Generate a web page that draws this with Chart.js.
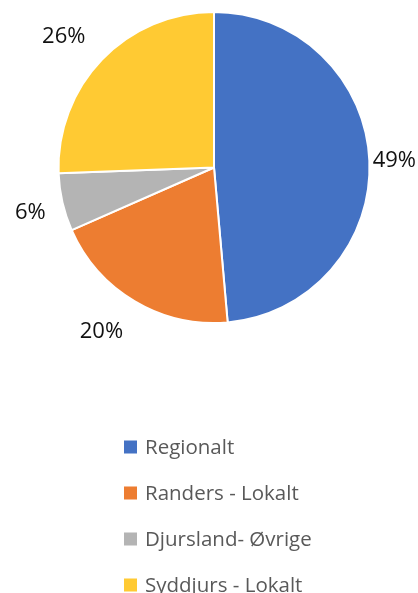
<!DOCTYPE html>
<html>
<head>
<meta charset="utf-8">
<script src="https://cdn.jsdelivr.net/npm/chart.js@4.4.0/dist/chart.umd.min.js"></script>
<style>
    html, body { margin: 0; padding: 0; background: #fff; }
    #wrap { width: 418px; height: 593px; }
</style>
</head>
<body>
<div id="wrap"><canvas id="pieChart" width="418" height="593"></canvas></div>
<script>
const categories = ['Regionalt', 'Randers - Lokalt', 'Djursland- Øvrige', 'Syddjurs - Lokalt'];
const shares = [48.6, 19.8, 6.0, 25.6];
const sliceColors = ['#4472C4', '#ED7D31', '#B4B4B4', '#FFCA33'];

const FONT = '"Open Sans", Lato, sans-serif';

// percentage labels outside each slice, nearest corner of the text box sits just past the rim
const outsideLabels = {
    id: 'outsideLabels',
    afterDatasetsDraw(chart) {
        const ctx = chart.ctx;
        const meta = chart.getDatasetMeta(0);
        const data = chart.data.datasets[0].data;
        const total = data.reduce((a, b) => a + b, 0);
        const clamp = v => Math.max(-1, Math.min(1, v));
        ctx.save();
        ctx.font = '22px ' + FONT;
        ctx.fillStyle = '#111';
        ctx.textAlign = 'center';
        ctx.textBaseline = 'middle';
        meta.data.forEach((arc, i) => {
            const p = arc.getProps(['x', 'y', 'startAngle', 'endAngle', 'outerRadius'], true);
            const mid = (p.startAngle + p.endAngle) / 2;
            const ux = Math.cos(mid), uy = Math.sin(mid);
            const text = Math.round(data[i] / total * 100) + '%';
            const hw = ctx.measureText(text).width / 2;
            const hh = 8.5;
            // steep sides (left/right) sit a little closer to the rim
            const r = p.outerRadius + 23 - 6 * Math.abs(ux) * (1 - Math.abs(uy) * 2.5 > 0 ? 1 : 0);
            let cx = p.x + ux * r + hw * clamp(ux * 2.5);
            const cy = p.y + uy * r + hh * clamp(uy * 2.5);
            cx = Math.min(cx, chart.width - 2 - hw);
            cx = Math.max(cx, 2 + hw);
            ctx.fillText(text, cx, cy + 2);
        });
        ctx.restore();
    }
};

// vertical legend under the pie
const stackedLegend = {
    id: 'stackedLegend',
    afterDraw(chart) {
        const ctx = chart.ctx;
        const colors = chart.data.datasets[0].backgroundColor;
        ctx.save();
        ctx.font = '20.5px ' + FONT;
        const widest = Math.max(...chart.data.labels.map(l => ctx.measureText(l).width));
        const blockW = 21 + widest;
        const left = Math.round((chart.width - blockW) / 2) + 9;
        ctx.textAlign = 'left';
        ctx.textBaseline = 'middle';
        chart.data.labels.forEach((label, i) => {
            const cy = 447 + i * 46;
            ctx.fillStyle = colors[i];
            ctx.fillRect(left, cy - 6.5, 13, 13);
            ctx.fillStyle = '#595959';
            ctx.fillText(label, left + 21, cy + 1);
        });
        ctx.restore();
    }
};

new Chart(document.getElementById('pieChart').getContext('2d'), {
    type: 'pie',
    data: {
        labels: categories,
        datasets: [{
            data: shares,
            backgroundColor: sliceColors,
            borderColor: '#fff',
            borderWidth: 2
        }]
    },
    options: {
        responsive: false,
        animation: false,
        layout: {
            padding: { top: 11, bottom: 269, left: 57, right: 47 }
        },
        plugins: {
            legend: { display: false },
            tooltip: { enabled: false }
        }
    },
    plugins: [outsideLabels, stackedLegend]
});
</script>
</body>
</html>
